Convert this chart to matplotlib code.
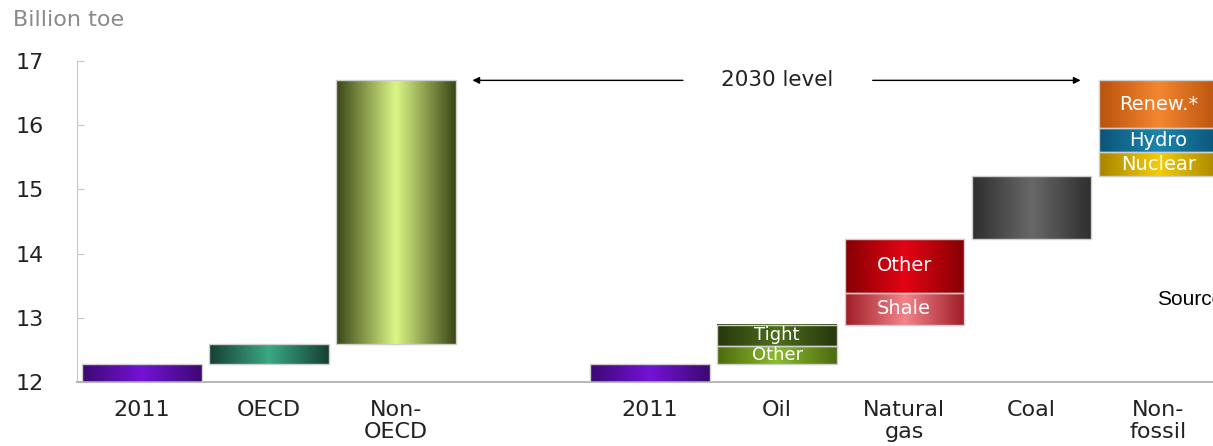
"""
Waterfall of world energy demand growth 2011 -> 2030, by region and by fuel.
Saves out.png (1213 x 446 px).
"""

import numpy as np
import matplotlib
matplotlib.use("Agg")
import matplotlib.pyplot as plt
from matplotlib.colors import LinearSegmentedColormap

# --- data (billion toe) ---------------------------------------------------
BASE_2011 = 12.28

region_labels = ["OECD", "Non-\nOECD"]
region_growth = [0.31, 4.11]

fuel_labels = ["Oil", "Natural\ngas", "Coal", "Non-\nfossil"]
# each fuel is a stack of (segment name, increment)
oil_parts = [("Other", 0.28), ("Tight", 0.33)]
gas_parts = [("Shale", 0.50), ("Other", 0.84)]
coal_parts = [("", 0.98)]
nonfossil_parts = [("Nuclear", 0.37), ("Hydro", 0.38), ("Renew.*", 0.74)]

yticks = [12, 13, 14, 15, 16, 17]

# gradient colours: (edge, centre)
C_2011 = ("#3c0a72", "#7412d6")
C_OECD = ("#163f33", "#3aa884")
C_NONOECD = ("#3a4616", "#dcf686")
C_SEG = {
    ("Oil", "Other"): ("#4c6a0e", "#8cbc2c"),
    ("Oil", "Tight"): ("#26360c", "#4e6e1c"),
    ("Gas", "Shale"): ("#a01c26", "#f2848c"),
    ("Gas", "Other"): ("#860004", "#e20414"),
    ("Coal", ""): ("#2e2e2e", "#686868"),
    ("Non", "Nuclear"): ("#a88400", "#f4cc0a"),
    ("Non", "Hydro"): ("#0a5478", "#1c86ae"),
    ("Non", "Renew.*"): ("#b8520c", "#f48630"),
}


def shade(ax, patch, colors):
    """Fill a bar patch with a horizontal dark-light-dark gradient."""
    x0, y0 = patch.get_x(), patch.get_y()
    x1, y1 = x0 + patch.get_width(), y0 + patch.get_height()
    cmap = LinearSegmentedColormap.from_list("g", [colors[0], colors[1], colors[0]])
    grad = np.tile(np.linspace(0, 1, 256), (4, 1))
    im = ax.imshow(grad, cmap=cmap, extent=[x0, x1, y0, y1],
                   aspect="auto", zorder=2, interpolation="bilinear")
    im.set_clip_path(patch)
    im.set_clip_box(ax.bbox)
    patch.set_facecolor("none")
    patch.set_edgecolor("#cfcfcf")
    patch.set_linewidth(1.0)
    patch.set_zorder(3)


fig = plt.figure(figsize=(12.13, 4.46), dpi=100)
ax = fig.add_axes([0.0635, 0.1435, 0.9365, 0.7195])

W = 0.94

# --- regional waterfall ---------------------------------------------------
bars = ax.bar([0], [BASE_2011], width=W, bottom=0)
shade(ax, bars[0], C_2011)
level = BASE_2011
for i, (lab, inc) in enumerate(zip(region_labels, region_growth)):
    b = ax.bar([i + 1], [inc], width=W, bottom=level)
    shade(ax, b[0], C_OECD if i == 0 else C_NONOECD)
    level += inc
level_2030 = level

# --- fuel waterfall ---------------------------------------------------------
bars = ax.bar([4], [BASE_2011], width=W, bottom=0)
shade(ax, bars[0], C_2011)
level = BASE_2011
keys = ["Oil", "Gas", "Coal", "Non"]
label_size = {"Oil": 13, "Gas": 14, "Coal": 14, "Non": 14}
for j, parts in enumerate([oil_parts, gas_parts, coal_parts, nonfossil_parts]):
    x = 5 + j
    for name, inc in parts:
        b = ax.bar([x], [inc], width=W, bottom=level)
        shade(ax, b[0], C_SEG[(keys[j], name)])
        if name:
            ax.text(x, level + inc / 2, name, ha="center", va="center",
                    color="white", fontsize=label_size[keys[j]], zorder=5)
        level += inc

# --- 2030 level arrow -------------------------------------------------------
ax.annotate("", xy=(2.58, level_2030), xytext=(4.28, level_2030),
            arrowprops=dict(arrowstyle="-|>", color="black", lw=1.0,
                            mutation_scale=10), zorder=4)
ax.annotate("", xy=(7.41, level_2030), xytext=(5.73, level_2030),
            arrowprops=dict(arrowstyle="-|>", color="black", lw=1.0,
                            mutation_scale=10), zorder=4)
ax.text(5.0, level_2030, "2030 level", ha="center", va="center",
        fontsize=15.5, color="#222222")

ax.text(7.99, 13.28, "Source", ha="left", va="center",
        fontsize=15, color="black", family="Liberation Sans")

# --- axes styling -----------------------------------------------------------
positions = [0, 1, 2, 4, 5, 6, 7, 8]
ax.set_xticks(positions)
ax.set_xticklabels(["2011"] + region_labels + ["2011"] + fuel_labels,
                   fontsize=16, color="#222222", va="top", linespacing=1.15)
ax.tick_params(axis="x", length=0, pad=13)
ax.set_yticks(yticks)
ax.set_yticklabels([str(t) for t in yticks], fontsize=16, color="#222222")
ax.tick_params(axis="y", direction="in", length=5, color="#c8c8c8", pad=24)

ax.set_xlim(-0.51, 8.43)
ax.set_ylim(12, 17)
for s in ["top", "right"]:
    ax.spines[s].set_visible(False)
ax.spines["left"].set_color("#c8c8c8")
ax.spines["bottom"].set_color("#aaaaaa")
ax.spines["bottom"].set_linewidth(1.2)

fig.text(0.011, 0.955, "Billion toe", ha="left", va="center",
         fontsize=16, color="#8a8a8a")

fig.savefig("out.png", dpi=100, facecolor="white")
plt.close(fig)
